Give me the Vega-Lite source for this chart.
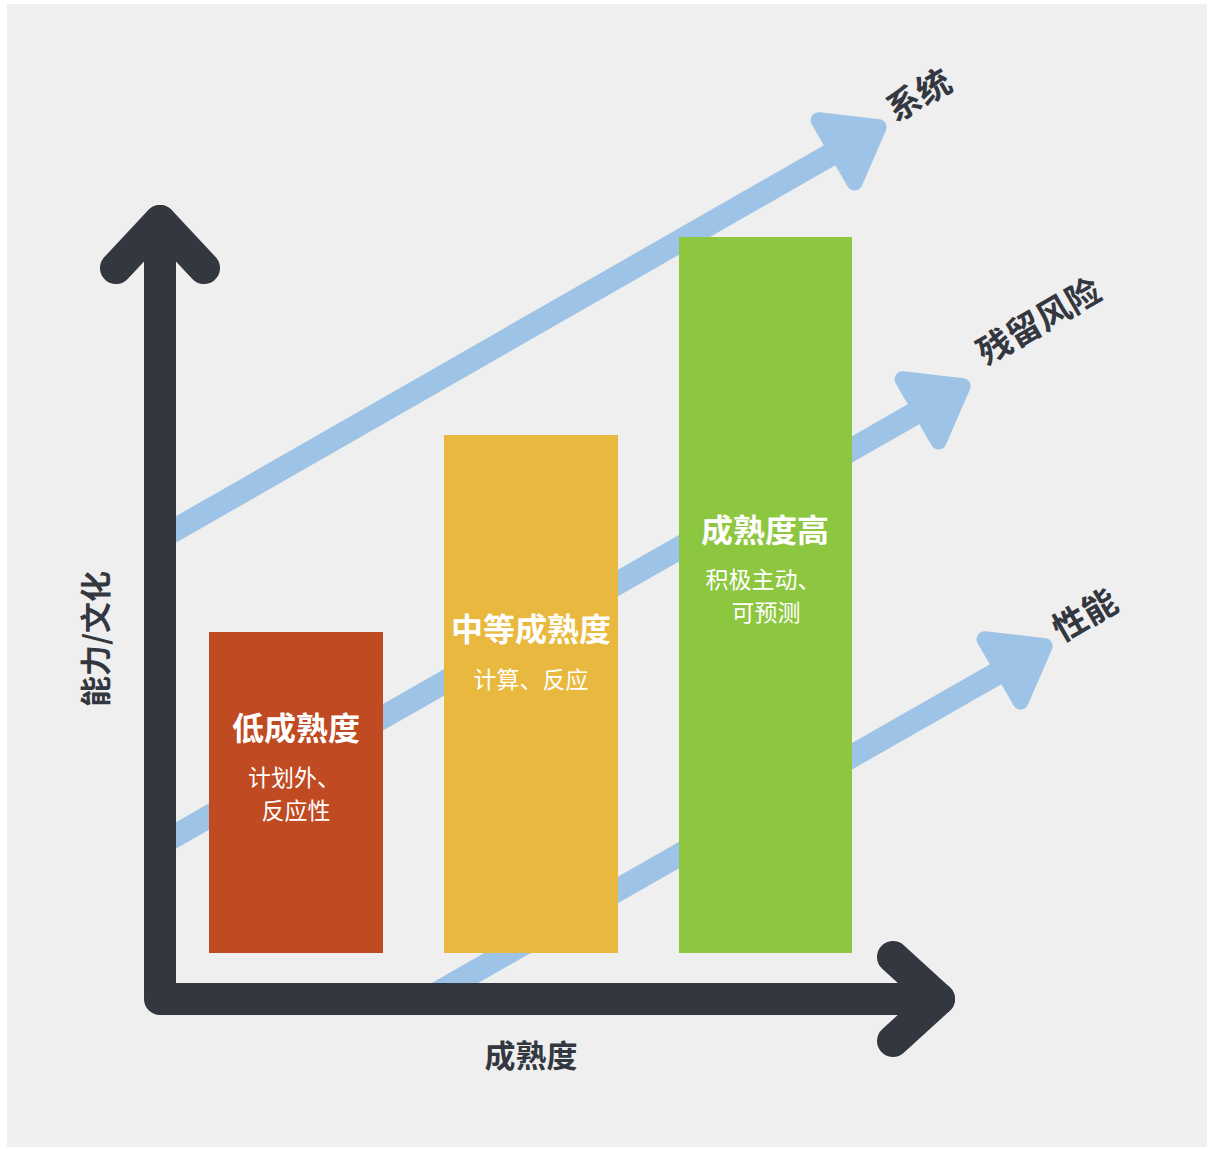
{
  "$schema": "https://vega.github.io/schema/vega-lite/v6.json",
  "width": 1209,
  "height": 1149,
  "autosize": {"type": "fit", "contains": "padding"},
  "padding": {"left": 7, "top": 4, "right": 2, "bottom": 2},
  "background": "#ffffff",
  "config": {"view": {"stroke": null, "fill": "#efefef"}, "font": "Noto Sans CJK SC"},
  "datasets": {
    "shafts": [
      {"trend": "系统", "seq": 0, "m": 160, "c": 610.4},
      {"trend": "系统", "seq": 1, "m": 858, "c": 1010},
      {"trend": "残留风险", "seq": 0, "m": 160, "c": 304.4},
      {"trend": "残留风险", "seq": 1, "m": 942, "c": 751},
      {"trend": "性能", "seq": 0, "m": 427, "c": 150},
      {"trend": "性能", "seq": 1, "m": 1024, "c": 491}
    ],
    "heads": [
      {"trend": "系统", "m": 858, "c": 1010},
      {"trend": "残留风险", "m": 942, "c": 751},
      {"trend": "性能", "m": 1024, "c": 491}
    ],
    "bars": [
      {"level": "低成熟度", "m0": 209, "m1": 383, "c0": 196, "c1": 517},
      {"level": "中等成熟度", "m0": 444, "m1": 618, "c0": 196, "c1": 714},
      {"level": "成熟度高", "m0": 679, "m1": 852, "c0": 196, "c1": 912}
    ],
    "axes": [
      {"part": "ytip", "seq": 0, "m": 116, "c": 881},
      {"part": "ytip", "seq": 1, "m": 160, "c": 928},
      {"part": "ytip", "seq": 2, "m": 204, "c": 881},
      {"part": "frame", "seq": 0, "m": 160, "c": 928},
      {"part": "frame", "seq": 1, "m": 160, "c": 150},
      {"part": "frame", "seq": 2, "m": 939, "c": 150},
      {"part": "xtip", "seq": 0, "m": 893, "c": 192},
      {"part": "xtip", "seq": 1, "m": 939, "c": 150},
      {"part": "xtip", "seq": 2, "m": 893, "c": 108}
    ],
    "barTitles": [
      {"text": "低成熟度", "m": 296, "c": 419},
      {"text": "中等成熟度", "m": 531, "c": 518},
      {"text": "成熟度高", "m": 765, "c": 617}
    ],
    "barSubs": [
      {"text": "计划外、", "m": 294, "c": 370},
      {"text": "反应性", "m": 296, "c": 337},
      {"text": "计算、反应", "m": 531, "c": 468},
      {"text": "积极主动、", "m": 763, "c": 568},
      {"text": "可预测", "m": 766, "c": 535}
    ],
    "trendLabels": [
      {"text": "系统", "m": 920, "c": 1052},
      {"text": "残留风险", "m": 1040, "c": 826},
      {"text": "性能", "m": 1086, "c": 532}
    ],
    "xTitle": [{"text": "成熟度", "m": 531, "c": 91}],
    "yTitle": [{"text": "能力/文化", "m": 98, "c": 510}]
  },
  "layer": [
    {
      "data": {"name": "shafts"},
      "mark": {"type": "line", "strokeWidth": 23, "strokeCap": "butt", "color": "#9dc3e6"},
      "encoding": {
        "x": {"field": "m", "type": "quantitative", "scale": {"domain": [7, 1207], "nice": false, "zero": false}, "axis": null},
        "y": {"field": "c", "type": "quantitative", "scale": {"domain": [2, 1145], "nice": false, "zero": false}, "axis": null},
        "detail": {"field": "trend"},
        "order": {"field": "seq"}
      }
    },
    {
      "data": {"name": "heads"},
      "mark": {"type": "point", "shape": "M 0.53 0 L -0.55 -0.8 L -0.55 0.8 Z", "filled": true, "fill": "#9dc3e6", "stroke": "#9dc3e6", "strokeWidth": 16, "strokeJoin": "round", "opacity": 1, "size": 8100, "angle": 330},
      "encoding": {
        "x": {"field": "m", "type": "quantitative", "scale": {"domain": [7, 1207], "nice": false, "zero": false}, "axis": null},
        "y": {"field": "c", "type": "quantitative", "scale": {"domain": [2, 1145], "nice": false, "zero": false}, "axis": null}
      }
    },
    {
      "data": {"name": "bars"},
      "mark": {"type": "rect"},
      "encoding": {
        "x": {"field": "m0", "type": "quantitative", "scale": {"domain": [7, 1207], "nice": false, "zero": false}, "axis": null},
        "x2": {"field": "m1"},
        "y": {"field": "c0", "type": "quantitative", "scale": {"domain": [2, 1145], "nice": false, "zero": false}, "axis": null},
        "y2": {"field": "c1"},
        "color": {"field": "level", "type": "nominal", "scale": {"domain": ["低成熟度", "中等成熟度", "成熟度高"], "range": ["#c04a22", "#e9b83f", "#8dc63f"]}, "legend": null}
      }
    },
    {
      "data": {"name": "axes"},
      "mark": {"type": "line", "strokeWidth": 32, "strokeCap": "round", "strokeJoin": "round", "color": "#333740"},
      "encoding": {
        "x": {"field": "m", "type": "quantitative", "scale": {"domain": [7, 1207], "nice": false, "zero": false}, "axis": null},
        "y": {"field": "c", "type": "quantitative", "scale": {"domain": [2, 1145], "nice": false, "zero": false}, "axis": null},
        "detail": {"field": "part"},
        "order": {"field": "seq"}
      }
    },
    {
      "data": {"name": "barTitles"},
      "mark": {"type": "text", "color": "#ffffff", "fontSize": 32, "fontWeight": "bold", "align": "center", "baseline": "middle"},
      "encoding": {
        "x": {"field": "m", "type": "quantitative", "scale": {"domain": [7, 1207], "nice": false, "zero": false}, "axis": null},
        "y": {"field": "c", "type": "quantitative", "scale": {"domain": [2, 1145], "nice": false, "zero": false}, "axis": null},
        "text": {"field": "text"}
      }
    },
    {
      "data": {"name": "barSubs"},
      "mark": {"type": "text", "color": "#ffffff", "fontSize": 23, "align": "center", "baseline": "middle"},
      "encoding": {
        "x": {"field": "m", "type": "quantitative", "scale": {"domain": [7, 1207], "nice": false, "zero": false}, "axis": null},
        "y": {"field": "c", "type": "quantitative", "scale": {"domain": [2, 1145], "nice": false, "zero": false}, "axis": null},
        "text": {"field": "text"}
      }
    },
    {
      "data": {"name": "trendLabels"},
      "mark": {"type": "text", "color": "#333740", "fontSize": 34, "fontWeight": "bold", "align": "center", "baseline": "middle", "angle": 330},
      "encoding": {
        "x": {"field": "m", "type": "quantitative", "scale": {"domain": [7, 1207], "nice": false, "zero": false}, "axis": null},
        "y": {"field": "c", "type": "quantitative", "scale": {"domain": [2, 1145], "nice": false, "zero": false}, "axis": null},
        "text": {"field": "text"}
      }
    },
    {
      "data": {"name": "xTitle"},
      "mark": {"type": "text", "color": "#333740", "fontSize": 31, "fontWeight": "bold", "align": "center", "baseline": "middle"},
      "encoding": {
        "x": {"field": "m", "type": "quantitative", "scale": {"domain": [7, 1207], "nice": false, "zero": false}, "axis": null},
        "y": {"field": "c", "type": "quantitative", "scale": {"domain": [2, 1145], "nice": false, "zero": false}, "axis": null},
        "text": {"field": "text"}
      }
    },
    {
      "data": {"name": "yTitle"},
      "mark": {"type": "text", "color": "#333740", "fontSize": 31, "fontWeight": "bold", "align": "center", "baseline": "middle", "angle": 270},
      "encoding": {
        "x": {"field": "m", "type": "quantitative", "scale": {"domain": [7, 1207], "nice": false, "zero": false}, "axis": null},
        "y": {"field": "c", "type": "quantitative", "scale": {"domain": [2, 1145], "nice": false, "zero": false}, "axis": null},
        "text": {"field": "text"}
      }
    }
  ]
}
